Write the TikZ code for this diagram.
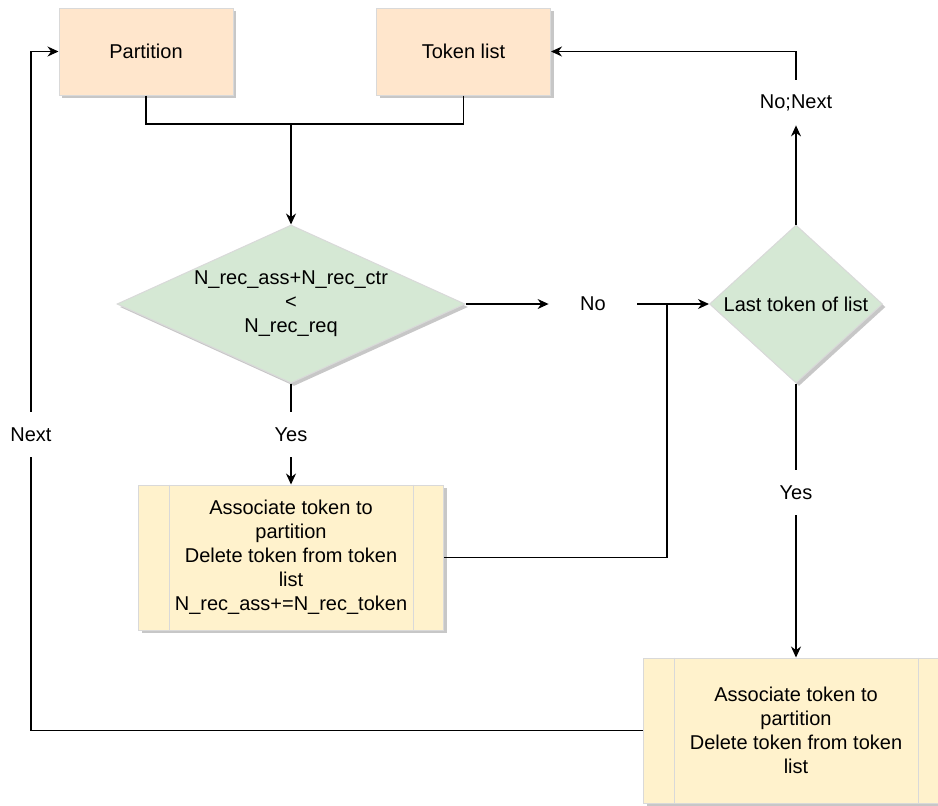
\documentclass[tikz,border=0pt]{standalone}
\usepackage{fontspec}
\setmainfont{Liberation Sans}
\usetikzlibrary{arrows.meta,shapes.geometric,shadows}
\definecolor{myorange}{HTML}{FFE6CC}
\definecolor{mygreen}{HTML}{D5E8D4}
\definecolor{myyellow}{HTML}{FFF2CC}
\colorlet{myedge}{black!15}
\tikzset{
	>={Stealth[length=5.5pt,width=5pt]}, % filled arrow heads
	node/.style={draw=myedge,line width=0.5pt,align=center,inner sep=0,
		font=\fontsize{10}{12}\selectfont,
		general shadow={fill=black!22,shadow xshift=1.5pt,shadow yshift=-1.5pt}},
	node start/.style={node,fill=myorange,minimum width=87pt,minimum height=43.5pt},
	node cond/.style={node,diamond,fill=mygreen,minimum height=79pt},
	node proc/.style={node,fill=myyellow,minimum width=152.5pt,minimum height=72.5pt},
	node lab/.style={inner sep=0,font=\fontsize{10}{12}\selectfont,minimum width=44pt,minimum height=22.5pt},
	connect/.style={line width=0.6pt,black},
	connect arrow/.style={connect,->}
}

\begin{document}
\begin{tikzpicture}[x=0.5pt,y=-0.5pt]
  \useasboundingbox (0,0) rectangle (938,805);
  
  % INPUT BOXES
  \node[node start] (P) at (146,51.5) {Partition};
  \node[node start] (T) at (463.5,51.5) {Token list};
  
  % DECISIONS
  \node[node cond,minimum width=174pt,shape aspect=2.25]
    (D1) at (291,304) {N\_rec\_ass+N\_rec\_ctr\\<\\N\_rec\_req};
  \node[node cond,minimum width=86.5pt,shape aspect=1.2]
    (D2) at (796,304) {Last token of list};
  
  % PROCESS BOXES
  \node[node proc] (A1) at (291,557.5)
    {Associate token to\\partition\\Delete token from token\\list\\N\_rec\_ass+=N\_rec\_token};
  \node[node proc] (A2) at (796,730.5)
    {Associate token to\\partition\\Delete token from token\\list};
  \foreach \n in {A1,A2}{ % side bars of the process boxes
    \draw[myedge,line width=0.5pt] ([xshift=15.5pt]\n.north west) -- ([xshift=15.5pt]\n.south west);
    \draw[myedge,line width=0.5pt] ([xshift=-15.5pt]\n.north east) -- ([xshift=-15.5pt]\n.south east);
  }
  
  % LABELS
  \node[node lab] (L1) at (593,304) {No};
  \node[node lab] (L2) at (291,434.5) {Yes};
  \node[node lab] (L3) at (796,102.5) {No;Next};
  \node[node lab] (L4) at (796,492.5) {Yes};
  \node[node lab] (L5) at (31,434.5) {Next};
  
  % CONNECTIONS
  \coordinate (M) at (291,124);
  \coordinate (J) at (667,304);
  \draw[connect] (P.south) |- (M);
  \draw[connect] (T.south) |- (M);
  \draw[connect arrow] (M) -- (D1.north);
  \draw[connect arrow] (D1.east) -- (L1.west);
  \draw[connect arrow] (L1.east) -- (D2.west);
  \draw[connect] (A1.east) -| (J);
  \draw[connect] (D1.south) -- (L2.north);
  \draw[connect arrow] (L2.south) -- (A1.north);
  \draw[connect arrow] (D2.north) -- (L3.south);
  \draw[connect arrow] (L3.north) |- (T.east);
  \draw[connect] (D2.south) -- (L4.north);
  \draw[connect arrow] (L4.south) -- (A2.north);
  \draw[connect] (A2.west) -| (L5.south);
  \draw[connect arrow] (L5.north) |- (P.west);
  
\end{tikzpicture}
\end{document}
